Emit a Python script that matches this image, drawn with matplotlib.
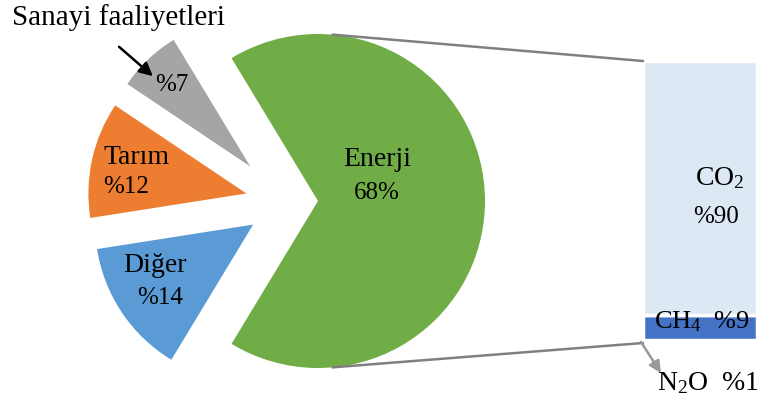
import matplotlib
matplotlib.use("Agg")
import matplotlib.pyplot as plt
from matplotlib.patches import ConnectionPatch
import numpy as np

# pie data: Enerji first, then the small slices counter-clockwise
pie_labels = ["Enerji", "Sanayi faaliyetleri", "Tarım", "Diğer"]
pie_values = [68, 7, 12, 14]
pie_colors = ["#70AD47", "#A5A5A5", "#ED7D31", "#5B9BD5"]

# bar data (breakdown of Enerji), bottom to top
gas_labels = ["N$_2$O", "CH$_4$", "CO$_2$"]
gas_values = [1, 9, 90]
gas_colors = ["#FFFFFF", "#4472C4", "#DDE8F5"]

plt.rcParams["font.family"] = ["Liberation Serif", "DejaVu Serif"]
plt.rcParams["mathtext.fontset"] = "custom"
plt.rcParams["mathtext.rm"] = "Liberation Serif"
plt.rcParams["mathtext.it"] = "Liberation Serif:italic"

W, H = 771, 403
fig = plt.figure(figsize=(W / 100, H / 100), dpi=100)

# stacked bar (drawn underneath the main axes so labels sit on top)
ax2 = fig.add_axes([643 / W, (H - 343) / H, 114 / W, 282 / H])
ax2.set_zorder(0)
bottom = 0
for lab, v, c in zip(gas_labels, gas_values, gas_colors):
    ax2.bar(0, v, width=1, bottom=bottom, color=c, edgecolor="white", linewidth=2.5)
    bottom += v
ax2.set_xlim(-0.5, 0.5)
ax2.set_ylim(0, sum(gas_values))
ax2.axis("off")

ax = fig.add_axes([0, 0, 1, 1])
ax.set_zorder(1)
ax.patch.set_visible(False)

cx, cy, r = 318, 202, 167
start = -pie_values[0] / sum(pie_values) * 360 / 2
wedges, _ = ax.pie(pie_values, colors=pie_colors, startangle=start,
                   counterclock=True, center=(cx, cy), radius=r,
                   wedgeprops=dict(linewidth=0))
# pull the small slices out towards the left (distance, direction in deg)
# and draw them a bit smaller, like the original
pull = [(76, 153), (72, 174), (69, 200)]
for w, (d, a), rr in zip(wedges[1:], pull, [148, 158, 158]):
    w.set_center((cx + d * np.cos(np.radians(a)), cy + d * np.sin(np.radians(a))))
    w.set_radius(rr)

ax.set_xlim(0, W)
ax.set_ylim(0, H)
ax.set_aspect("equal")
ax.axis("off")

# connector lines from the Enerji slice to the bar
for ang, yb in [(85, sum(gas_values)), (-85, 0)]:
    xa = cx + r * np.cos(np.radians(ang))
    ya = cy + r * np.sin(np.radians(ang))
    con = ConnectionPatch(xyA=(-0.5, yb), coordsA=ax2.transData,
                          xyB=(xa, ya), coordsB=ax.transData,
                          color="#808080", linewidth=1.8)
    ax.add_artist(con)

# labels
fs_w, fs_n = 20, 18
ax.text(118, 385, pie_labels[1], fontsize=21, ha="center", va="center")
ax.annotate("", xy=(155, 325), xytext=(117, 358),
            arrowprops=dict(arrowstyle="-|>,head_width=0.4,head_length=0.8",
                            color="black", lw=1.8))
ax.text(172, 318, "%" + str(pie_values[1]), fontsize=fs_n, ha="center", va="center")
ax.text(104, 246, pie_labels[2], fontsize=fs_w, ha="left", va="center")
ax.text(103, 216, "%" + str(pie_values[2]), fontsize=fs_n, ha="left", va="center")
ax.text(155, 138, pie_labels[3], fontsize=fs_w, ha="center", va="center")
ax.text(160, 105, "%" + str(pie_values[3]), fontsize=fs_n, ha="center", va="center")
ax.text(377, 243, pie_labels[0], fontsize=fs_w, ha="center", va="center")
ax.text(377, 210, str(pie_values[0]) + "%", fontsize=fs_n, ha="center", va="center")

ax.text(720, 225, gas_labels[2], fontsize=fs_w, ha="center", va="center")
ax.text(716, 186, "%" + str(gas_values[2]), fontsize=fs_n, ha="center", va="center")
ax.text(702, 81, gas_labels[1] + "  %" + str(gas_values[1]), fontsize=19,
        ha="center", va="center")
ax.text(708, 20, gas_labels[0] + "  %" + str(gas_values[0]), fontsize=fs_w,
        ha="center", va="center")
ax.annotate("", xy=(661, 30), xytext=(641, 61),
            arrowprops=dict(arrowstyle="-|>,head_width=0.35,head_length=0.7",
                            color="#999999", lw=1.8, shrinkA=0, shrinkB=0))

fig.savefig("out.png", dpi=100)
